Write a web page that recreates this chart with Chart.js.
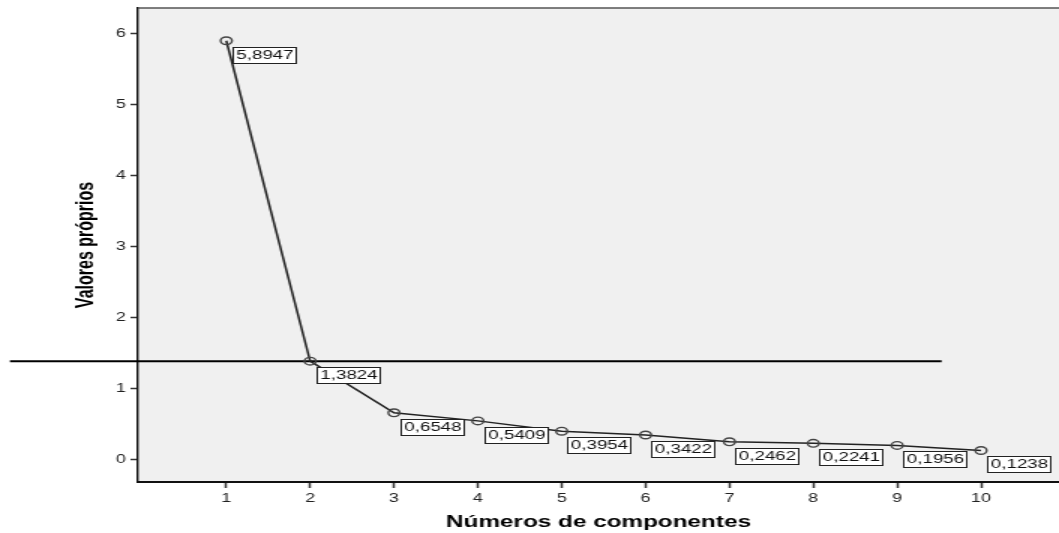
<!DOCTYPE html>
<html><head><meta charset="utf-8">
<script src="https://cdn.jsdelivr.net/npm/chart.js@4"></script>
<style>
html,body{margin:0;padding:0;background:#fff;overflow:hidden;}
#wrap{position:absolute;left:0;top:0;width:706px;height:533px;transform:scaleX(1.5);transform-origin:0 0;}
</style></head><body>
<div id="wrap"><canvas id="c"></canvas></div>
<script>
// ---- data ----
const components = [1, 2, 3, 4, 5, 6, 7, 8, 9, 10];
const eigenvalues = [5.8947, 1.3824, 0.6548, 0.5409, 0.3954, 0.3422, 0.2462, 0.2241, 0.1956, 0.1238];
const xTicks = [1, 2, 3, 4, 5, 6, 7, 8, 9, 10];
const yTicks = [0, 1, 2, 3, 4, 5, 6];
const cutoffValue = 1.3824;
const cutoffStartEnd = [-1.58, 9.53];
const xTitle = 'Números de componentes';
const yTitle = 'Valores próprios';

const FONT = '"Liberation Sans", Arial, sans-serif';

const fmt = v => v.toFixed(4).replace('.', ',');

const bgPlugin = {
  id: 'bg',
  beforeDraw(chart) {
    const {ctx, chartArea: a} = chart;
    ctx.save();
    ctx.fillStyle = '#f0f0f0';
    ctx.fillRect(a.left, a.top, a.right - a.left, a.bottom - a.top);
    ctx.restore();
  },
  afterDraw(chart) {
    const {ctx, chartArea: a} = chart;
    ctx.save();
    ctx.strokeStyle = '#555';
    ctx.lineWidth = 1.5;
    ctx.beginPath();
    ctx.moveTo(a.left, a.top);
    ctx.lineTo(a.right, a.top);
    ctx.stroke();
    ctx.restore();
  }
};

const labelPlugin = {
  id: 'valueLabels',
  afterDatasetsDraw(chart) {
    const {ctx} = chart;
    const meta = chart.getDatasetMeta(0);
    ctx.save();
    ctx.font = '12.5px ' + FONT;
    ctx.textBaseline = 'middle';
    ctx.textAlign = 'left';
    meta.data.forEach((pt, i) => {
      const txt = fmt(eigenvalues[i]);
      const w = Math.round(ctx.measureText(txt).width + 4);
      const h = 16;
      const x = Math.round(pt.x + 4) + 0.5;
      const y = Math.round(pt.y + 6) + 0.5;
      ctx.fillStyle = '#fff';
      ctx.fillRect(x, y, w, h);
      ctx.strokeStyle = '#222';
      ctx.lineWidth = 1;
      ctx.strokeRect(x, y, w, h);
      ctx.fillStyle = '#111';
      ctx.fillText(txt, x + 2, y + h / 2 + 0.5);
    });
    ctx.restore();
  }
};

new Chart(document.getElementById('c'), {
  type: 'line',
  data: {
    datasets: [
      {
        data: components.map((c, i) => ({x: c, y: eigenvalues[i]})),
        borderColor: '#222',
        borderWidth: 1.5,
        pointRadius: 3.8,
        pointBorderWidth: 1.4,
        pointBorderColor: '#444',
        pointBackgroundColor: 'rgba(0,0,0,0)',
        tension: 0
      },
      {
        data: cutoffStartEnd.map(x => ({x: x, y: cutoffValue})),
        borderColor: '#000',
        borderWidth: 2,
        pointRadius: 0,
        clip: false,
        tension: 0
      }
    ]
  },
  options: {
    responsive: true,
    maintainAspectRatio: false,
    animation: false,
    devicePixelRatio: 1,
    layout: {autoPadding: false, padding: {top: 8, left: 0, right: 0, bottom: 0}},
    plugins: {legend: {display: false}, tooltip: {enabled: false}},
    scales: {
      x: {
        type: 'linear',
        min: -0.053,
        max: 10.93,
        afterBuildTicks: s => { s.ticks = xTicks.map(v => ({value: v})); },
        afterFit: s => { s.height = 51; s.paddingLeft = 0; s.paddingRight = 0; },
        grid: {drawOnChartArea: false, drawTicks: true, tickLength: 6, tickWidth: 1.5, tickColor: '#333'},
        border: {display: true, color: '#111', width: 2},
        ticks: {font: {family: FONT, size: 12}, color: '#222', padding: 3, maxRotation: 0,
                callback: v => String(v)},
        title: {display: true, text: xTitle, color: '#000',
                font: {family: FONT, size: 16.2, weight: 'bold'}, padding: {top: 0, bottom: 1}}
      },
      y: {
        type: 'linear',
        min: -0.32,
        max: 6.356,
        afterBuildTicks: s => { s.ticks = yTicks.map(v => ({value: v})); },
        afterFit: s => { s.width = 92; s.paddingTop = 0; s.paddingBottom = 0; },
        grid: {drawOnChartArea: false, drawTicks: true, tickLength: 5, tickWidth: 1.5, tickColor: '#333'},
        border: {display: true, color: '#111', width: 1.4},
        ticks: {font: {family: FONT, size: 12}, color: '#222', padding: 3,
                callback: v => String(v)},
        title: {display: true, text: yTitle, color: '#000',
                font: {family: FONT, size: 16, weight: 'bold'}, padding: {top: 48, bottom: 0}}
      }
    }
  },
  plugins: [bgPlugin, labelPlugin]
});
</script>
</body></html>
